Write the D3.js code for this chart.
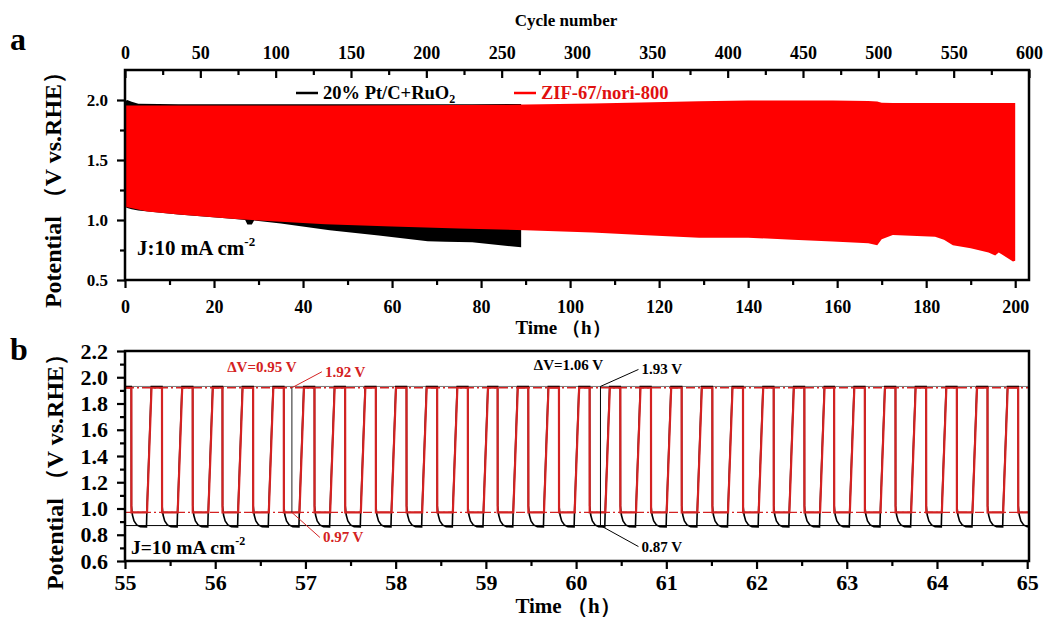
<!DOCTYPE html>
<html>
<head>
<meta charset="utf-8">
<script src="https://cdn.jsdelivr.net/npm/d3@7"></script>
<style>
body { margin: 0; background: #fff; }
svg text { font-family: "Liberation Serif", "Times New Roman", serif; font-weight: bold; }
</style>
</head>
<body>
<svg id="chart" width="1043" height="620"></svg>
<script>
// ---------- panel a : envelope of the long-term cycling (time h, potential V) ----------
const ptTime  = [0, 0.5, 1.5, 3, 12, 24, 27, 27.5, 28.5, 29, 35, 46, 57, 68, 72, 78, 89];
const ptUpper = [1.99, 2.0, 1.985, 1.968, 1.965, 1.965, 1.965, 1.965, 1.965, 1.965, 1.965, 1.964, 1.964, 1.964, 1.965, 1.965, 1.966];
const ptLower = [1.11, 1.10, 1.09, 1.08, 1.045, 1.01, 1.0, 0.962, 0.962, 0.995, 0.97, 0.915, 0.87, 0.822, 0.818, 0.815, 0.772];

const zifTime  = [0, 5, 12, 24, 35, 45, 60, 75, 90, 105, 116, 129, 140, 150, 159, 167, 169, 170, 172.5, 182, 184, 186, 190, 194, 195.5, 196.3, 198, 199.5, 200];
const zifUpper = [1.955, 1.955, 1.955, 1.955, 1.955, 1.955, 1.956, 1.958, 1.962, 1.97, 1.98, 1.99, 1.995, 1.995, 1.995, 1.992, 1.988, 1.978, 1.974, 1.974, 1.974, 1.975, 1.975, 1.975, 1.975, 1.975, 1.975, 1.975, 1.975];
const zifLower = [1.11, 1.07, 1.045, 1.01, 0.985, 0.965, 0.945, 0.93, 0.915, 0.895, 0.875, 0.852, 0.853, 0.835, 0.82, 0.806, 0.79, 0.84, 0.875, 0.86, 0.835, 0.79, 0.765, 0.73, 0.705, 0.73, 0.69, 0.655, 0.66];

const timeTicksA  = [0, 20, 40, 60, 80, 100, 120, 140, 160, 180, 200];
const cycleTicks  = [0, 50, 100, 150, 200, 250, 300, 350, 400, 450, 500, 550, 600];
const potTicksA   = [0.5, 1.0, 1.5, 2.0];

// ---------- panel b : zoom 55-65 h ----------
// times (h) where the potential drops from the high to the low plateau
const fallTimes = [54.73, 55.07, 55.41, 55.75, 56.08, 56.42, 56.76, 57.10, 57.44, 57.78, 58.12,
  58.46, 58.80, 59.13, 59.47, 59.81, 60.15, 60.49, 60.83, 61.17, 61.51, 61.85, 62.19, 62.53,
  62.86, 63.20, 63.54, 63.88, 64.22, 64.56, 64.90];
// shape of one cycle: offset after the drop (h), potential (V)
const zifCycleDt = [0, 0.001, 0.174, 0.224, 0.339];
const zifCycleV  = [1.92, 0.97, 0.97, 1.92, 1.92];
const ptCycleDt  = [0, 0.001, 0.012, 0.03, 0.06, 0.1, 0.168, 0.172, 0.222, 0.339];
const ptCycleV   = [1.93, 1.02, 0.95, 0.905, 0.875, 0.862, 0.86, 0.97, 1.93, 1.93];

const timeTicksB = [55, 56, 57, 58, 59, 60, 61, 62, 63, 64, 65];
const potTicksB  = [0.6, 0.8, 1.0, 1.2, 1.4, 1.6, 1.8, 2.0, 2.2];

// reference levels and their call-outs
const zifLevels = [1.92, 0.97];
const ptLevels  = [1.93, 0.87];
const zifMarkT = 56.85;
const ptMarkT  = 60.27;

const RED_A = "#ff0000";
const RED_B = "#d42222";

const svg = d3.select("#chart");

// ================= panel a =================
const xA = d3.scaleLinear().domain([0, 203.1]).range([125, 1029]);
const xC = d3.scaleLinear().domain([0, 600]).range([125, 1029]);
const yA = d3.scaleLinear().domain([0.5, 2.25]).range([280, 70]);

function band(time, upper, lower, x, y) {
  const pts = time.map((t, i) => [x(t), y(upper[i])]);
  for (let i = time.length - 1; i >= 0; i--) pts.push([x(time[i]), y(lower[i])]);
  return d3.line()(pts) + "Z";
}

const gA = svg.append("g").attr("class", "panel-a");
gA.append("path").attr("d", band(ptTime, ptUpper, ptLower, xA, yA)).attr("fill", "#000");
gA.append("path").attr("d", band(zifTime, zifUpper, zifLower, xA, yA)).attr("fill", RED_A);

function styleAxis(g, size) {
  g.select(".domain").remove();
  g.selectAll("line").attr("stroke", "#000").attr("stroke-width", 2.2);
  g.selectAll("text").attr("font-family", "Liberation Serif, serif").attr("font-weight", "bold")
    .attr("font-size", size).attr("fill", "#000");
}

// frame
gA.append("rect").attr("x", 125).attr("y", 70).attr("width", 904).attr("height", 210)
  .attr("fill", "none").attr("stroke", "#000").attr("stroke-width", 2.5);

// bottom time axis
gA.append("g").attr("transform", "translate(0,280)")
  .call(d3.axisBottom(xA).tickValues(timeTicksA).tickSize(8).tickPadding(12).tickFormat(d3.format("d")))
  .call(g => styleAxis(g, 18));
gA.append("g").attr("transform", "translate(0,280)")
  .call(d3.axisBottom(xA).tickValues(timeTicksA.slice(0, -1).map(d => d + 10)).tickSize(5).tickFormat(""))
  .call(g => styleAxis(g, 18));

// top cycle axis (ticks inward)
gA.append("g").attr("transform", "translate(0,70)")
  .call(d3.axisTop(xC).tickValues(cycleTicks).tickSize(-8).tickPadding(11).tickFormat(d3.format("d")))
  .call(g => styleAxis(g, 18));
gA.append("g").attr("transform", "translate(0,70)")
  .call(d3.axisTop(xC).tickValues(cycleTicks.slice(0, -1).map(d => d + 25)).tickSize(-5).tickFormat(""))
  .call(g => styleAxis(g, 18));

// left potential axis
gA.append("g").attr("transform", "translate(125,0)")
  .call(d3.axisLeft(yA).tickValues(potTicksA).tickSize(8).tickPadding(9).tickFormat(d3.format(".1f")))
  .call(g => styleAxis(g, 17));
gA.append("g").attr("transform", "translate(125,0)")
  .call(d3.axisLeft(yA).tickValues(potTicksA.slice(0, -1).map(d => d + 0.25)).tickSize(5).tickFormat(""))
  .call(g => styleAxis(g, 17));

// legend
const legend = [
  {label: "20% Pt/C+RuO", sub: "2", color: "#000", line: "#000", x: 296},
  {label: "ZIF-67/nori-800", sub: "", color: "#e01010", line: RED_A, x: 514}
];
legend.forEach(l => {
  gA.append("line").attr("x1", l.x).attr("x2", l.x + 22).attr("y1", 93).attr("y2", 93)
    .attr("stroke", l.line).attr("stroke-width", 2.5);
  const t = gA.append("text").attr("x", l.x + 27).attr("y", 99).attr("font-size", 18.5).attr("fill", l.color).text(l.label);
  if (l.sub) t.append("tspan").attr("font-size", 12).attr("dy", 4).text(l.sub);
});

const jA = gA.append("text").attr("x", 137).attr("y", 255).attr("font-size", 21).text("J:10 mA cm");
jA.append("tspan").attr("font-size", 13).attr("dy", -9).text("-2");

// titles
gA.append("text").attr("x", 566).attr("y", 26).attr("text-anchor", "middle").attr("font-size", 17).text("Cycle number");
gA.append("text").attr("x", 563).attr("y", 334).attr("text-anchor", "middle").attr("font-size", 19).text("Time （h）");
gA.append("text").attr("transform", "translate(61,184) rotate(-90)").attr("text-anchor", "middle")
  .attr("font-size", 24).text("Potential （V vs.RHE）");
svg.append("text").attr("x", 10).attr("y", 50).attr("font-size", 32).text("a");

// ================= panel b =================
const xB = d3.scaleLinear().domain([55, 65.02]).range([125, 1029]);
const yB = d3.scaleLinear().domain([0.6, 2.2]).range([561, 351]);
const gB = svg.append("g").attr("class", "panel-b");

svg.append("clipPath").attr("id", "clipB").append("rect")
  .attr("x", 125).attr("y", 351).attr("width", 904).attr("height", 210);

function cycles(dt, v) {
  const pts = [];
  fallTimes.forEach(t0 => dt.forEach((d, i) => pts.push([t0 + d, v[i]])));
  return pts;
}
const lineB = d3.line().x(d => xB(d[0])).y(d => yB(d[1]));
const plotB = gB.append("g").attr("clip-path", "url(#clipB)");

// reference levels
plotB.append("line").attr("x1", 125).attr("x2", 1029).attr("y1", yB(ptLevels[0])).attr("y2", yB(ptLevels[0]))
  .attr("stroke", "#777").attr("stroke-width", 1);
plotB.append("line").attr("x1", 125).attr("x2", 1029).attr("y1", yB(ptLevels[1])).attr("y2", yB(ptLevels[1]))
  .attr("stroke", "#000").attr("stroke-width", 1);

plotB.append("path").attr("d", lineB(cycles(ptCycleDt, ptCycleV)))
  .attr("fill", "none").attr("stroke", "#000").attr("stroke-width", 1.6);
plotB.append("path").attr("d", lineB(cycles(zifCycleDt, zifCycleV)))
  .attr("fill", "none").attr("stroke", RED_B).attr("stroke-width", 2.2);

zifLevels.forEach(v => {
  plotB.append("line").attr("x1", 125).attr("x2", 1029).attr("y1", yB(v)).attr("y2", yB(v))
    .attr("stroke", RED_B).attr("stroke-width", 1.3).attr("stroke-dasharray", "9,3,2,3");
});

// ΔV markers
plotB.append("line").attr("x1", xB(zifMarkT)).attr("x2", xB(zifMarkT))
  .attr("y1", yB(zifLevels[0])).attr("y2", yB(zifLevels[1])).attr("stroke", "#222").attr("stroke-width", 1);
plotB.append("line").attr("x1", xB(ptMarkT)).attr("x2", xB(ptMarkT))
  .attr("y1", yB(ptLevels[0])).attr("y2", yB(ptLevels[1])).attr("stroke", "#000").attr("stroke-width", 1);

const callouts = [
  {t: zifMarkT, v: zifLevels[0], dx: 30, dy: -16, text: "1.92 V", color: RED_B},
  {t: zifMarkT, v: zifLevels[1], dx: 28, dy: 25, text: "0.97 V", color: RED_B},
  {t: ptMarkT, v: ptLevels[0], dx: 38, dy: -17, text: "1.93 V", color: "#000"},
  {t: ptMarkT, v: ptLevels[1], dx: 38, dy: 21, text: "0.87 V", color: "#000"}
];
callouts.forEach(c => {
  const x0 = xB(c.t), y0 = yB(c.v);
  gB.append("line").attr("x1", x0).attr("y1", y0).attr("x2", x0 + c.dx).attr("y2", y0 + c.dy)
    .attr("stroke", c.color).attr("stroke-width", 1);
  gB.append("text").attr("x", x0 + c.dx + 3).attr("y", y0 + c.dy + 5).attr("font-size", 15)
    .attr("fill", c.color).text(c.text);
});
gB.append("text").attr("x", xB(zifMarkT) - 30).attr("y", 372).attr("text-anchor", "middle")
  .attr("font-size", 15).attr("fill", RED_B).text("ΔV=0.95 V");
gB.append("text").attr("x", xB(ptMarkT) - 32).attr("y", 370).attr("text-anchor", "middle")
  .attr("font-size", 15).attr("fill", "#000").text("ΔV=1.06 V");

// frame
gB.append("rect").attr("x", 125).attr("y", 351).attr("width", 904).attr("height", 210)
  .attr("fill", "none").attr("stroke", "#000").attr("stroke-width", 2.5);

gB.append("g").attr("transform", "translate(0,561)")
  .call(d3.axisBottom(xB).tickValues(timeTicksB).tickSize(8).tickPadding(5).tickFormat(d3.format("d")))
  .call(g => styleAxis(g, 22));
gB.append("g").attr("transform", "translate(0,561)")
  .call(d3.axisBottom(xB).tickValues(timeTicksB.slice(0, -1).map(d => d + 0.5)).tickSize(5).tickFormat(""))
  .call(g => styleAxis(g, 22));
gB.append("g").attr("transform", "translate(125,0)")
  .call(d3.axisLeft(yB).tickValues(potTicksB).tickSize(8).tickPadding(9).tickFormat(d3.format(".1f")))
  .call(g => styleAxis(g, 22));
gB.append("g").attr("transform", "translate(125,0)")
  .call(d3.axisLeft(yB).tickValues(potTicksB.slice(0, -1).map(d => d + 0.1)).tickSize(5).tickFormat(""))
  .call(g => styleAxis(g, 22));

const jB = gB.append("text").attr("x", 131).attr("y", 554).attr("font-size", 19.5).text("J=10 mA cm");
jB.append("tspan").attr("font-size", 12).attr("dy", -9).text("-2");

gB.append("text").attr("x", 568).attr("y", 613).attr("text-anchor", "middle").attr("font-size", 21).text("Time （h）");
gB.append("text").attr("transform", "translate(63,466) rotate(-90)").attr("text-anchor", "middle")
  .attr("font-size", 24).text("Potential （V vs.RHE）");
svg.append("text").attr("x", 10).attr("y", 360).attr("font-size", 32).text("b");
</script>
</body>
</html>
